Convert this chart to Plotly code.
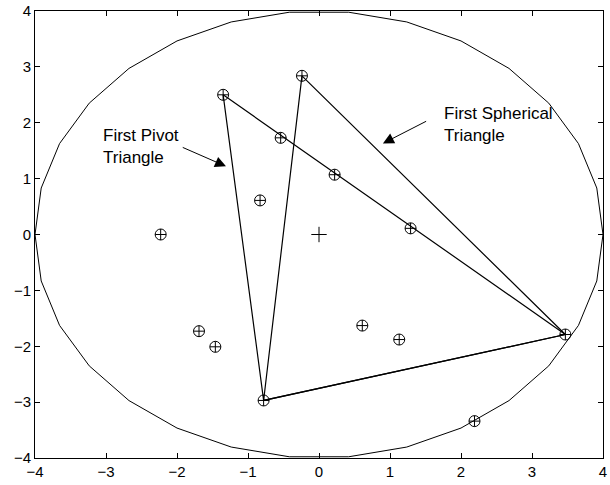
import numpy as np
import plotly.graph_objects as go

# sample points (circle-plus markers)
point_x = [-1.35, -0.24, -0.54, 0.22, 1.29, -0.83, -2.23, -1.69, -1.46, -0.78, 0.61, 1.13, 3.47, 2.19]
point_y = [2.50, 2.84, 1.73, 1.07, 0.11, 0.61, 0.00, -1.73, -2.01, -2.97, -1.63, -1.88, -1.79, -3.34]

# centre
center_x = [0.0]
center_y = [0.0]

# triangles (closed)
pivot_tri_x = [-1.35, -0.78, 3.47, -1.35]
pivot_tri_y = [2.50, -2.97, -1.79, 2.50]
spherical_tri_x = [-0.24, -0.78, 3.47, -0.24]
spherical_tri_y = [2.84, -2.97, -1.79, 2.84]

# bounding circle, drawn as a 30-segment polygon
RADIUS = 4
N_SEG = 30
ang = np.linspace(0, 2 * np.pi, N_SEG + 1)
circle_x = RADIUS * np.cos(ang)
circle_y = RADIUS * np.sin(ang)

BLACK = "#000000"
FONT = "Liberation Sans, Arial, sans-serif"

fig = go.Figure()

fig.add_trace(go.Scatter(x=circle_x, y=circle_y, mode="lines",
                         line=dict(color=BLACK, width=1), hoverinfo="skip"))
fig.add_trace(go.Scatter(x=pivot_tri_x, y=pivot_tri_y, mode="lines",
                         line=dict(color=BLACK, width=1.2)))
fig.add_trace(go.Scatter(x=spherical_tri_x, y=spherical_tri_y, mode="lines",
                         line=dict(color=BLACK, width=1.2)))
fig.add_trace(go.Scatter(x=point_x, y=point_y, mode="markers",
                         marker=dict(symbol="circle-cross-open", size=11,
                                     color=BLACK, line=dict(width=1, color=BLACK))))
fig.add_trace(go.Scatter(x=center_x, y=center_y, mode="markers",
                         marker=dict(symbol="cross-thin-open", size=11, color=BLACK,
                                     line=dict(width=1, color=BLACK))))

annotations = [
    dict(x=-3.07, y=1.58, text="First Pivot<br>Triangle", showarrow=False,
         xanchor="left", yanchor="middle", align="left",
         font=dict(size=17, color=BLACK, family=FONT)),
    dict(x=1.73, y=1.96, text="First Spherical<br>Triangle", showarrow=False,
         xanchor="left", yanchor="middle", align="left",
         font=dict(size=17, color=BLACK, family=FONT)),
    dict(x=-1.31, y=1.22, ax=-1.94, ay=1.57, axref="x", ayref="y", text="",
         showarrow=True, arrowhead=2, arrowsize=2.2, arrowwidth=1, arrowcolor=BLACK),
    dict(x=0.90, y=1.63, ax=1.53, ay=2.04, axref="x", ayref="y", text="",
         showarrow=True, arrowhead=2, arrowsize=2.2, arrowwidth=1, arrowcolor=BLACK),
]

axis_style = dict(
    range=[-4, 4], dtick=1, showgrid=False, zeroline=False, automargin=False,
    showline=True, linecolor=BLACK, linewidth=1, mirror="ticks",
    ticks="inside", ticklen=5, tickcolor=BLACK,
    tickfont=dict(size=15, color=BLACK, family=FONT),
)

fig.update_xaxes(**axis_style)
fig.update_yaxes(**axis_style)

fig.update_layout(
    width=610, height=485,
    margin=dict(l=35, r=7, t=11, b=27, autoexpand=False),
    plot_bgcolor="white", paper_bgcolor="white",
    showlegend=False,
    annotations=annotations,
)

# drop the page's default body margin so the figure sits at the window origin
fig.write_html("out.html", config={"displayModeBar": False},
               post_script="document.body.style.margin='0';")
